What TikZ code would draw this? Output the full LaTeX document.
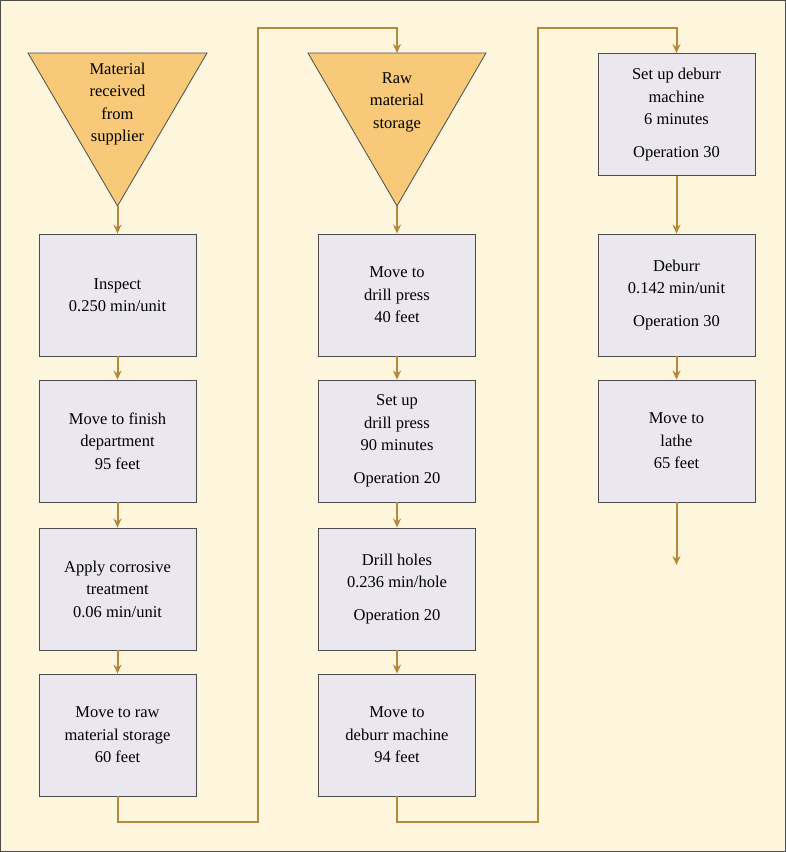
\documentclass[tikz,border=0pt]{standalone}
\usepackage{fontspec}
\setmainfont{Liberation Serif}
\usetikzlibrary{arrows.meta}

\definecolor{pagebg}{HTML}{FDF6DD}
\definecolor{boxfill}{HTML}{EBE7EF}
\definecolor{trifill}{HTML}{F7C978}
\definecolor{flow}{HTML}{B4893A}

\tikzset{
  stepbox/.style={draw=black!70,fill=boxfill,line width=0.8pt,minimum width=157pt,
    minimum height=122pt,align=center,inner sep=2pt,font=\fontsize{16.5}{22.5}\selectfont},
  tritext/.style={align=center,font=\fontsize{16.5}{22.5}\selectfont},
  flowline/.style={draw=flow,line width=2pt,-{Stealth[length=9pt,width=8pt]}}
}

\begin{document}
\begin{tikzpicture}[x=1pt,y=-1pt]
\fill[pagebg,draw=black!70,line width=0.8pt] (0.5,0.5) rectangle (785.5,851.5);
\useasboundingbox (0,0) rectangle (786,852);

% storage triangles
\draw[fill=trifill,draw=black!70,line width=0.8pt] (28,53) -- (207,53) -- (117.5,206) -- cycle;
\coordinate (tri1) at (117.5,206);
\node[tritext] (lbl1) at (117.5,104) {Material\\received\\from\\supplier};
\draw[fill=trifill,draw=black!70,line width=0.8pt] (308,53) -- (486,53) -- (397,206) -- cycle;
\coordinate (tri2) at (397,206);
\coordinate (top2) at (397,53);
\node[tritext] (lbl2) at (397,102) {Raw\\material\\storage};

% column 1
\node[stepbox] (inspect) at (117.5,295) {Inspect\\0.250 min/unit};
\node[stepbox] (movefin) at (117.5,441) {Move to finish\\department\\95 feet};
\node[stepbox] (treat) at (117.5,589) {Apply corrosive\\treatment\\0.06 min/unit};
\node[stepbox] (moveraw) at (117.5,735) {Move to raw\\material storage\\60 feet};

% column 2
\node[stepbox] (movedrill) at (397,295) {Move to\\drill press\\40 feet};
\node[stepbox] (setdrill) at (397,441) {Set up\\drill press\\90 minutes\\[10pt]Operation 20};
\node[stepbox] (drill) at (397,589) {Drill holes\\0.236 min/hole\\[10pt]Operation 20};
\node[stepbox] (movedeb) at (397,735) {Move to\\deburr machine\\94 feet};

% column 3
\node[stepbox] (setdeb) at (676.5,114.5) {Set up deburr\\machine\\6 minutes\\[10pt]Operation 30};
\node[stepbox] (deburr) at (676.5,295) {Deburr\\0.142 min/unit\\[10pt]Operation 30};
\node[stepbox] (movelathe) at (676.5,441) {Move to\\lathe\\65 feet};
\coordinate (top3) at (676.5,53);
\coordinate (out) at (676.5,565);

\path[flowline] (tri1) -- (inspect);
\path[flowline] (inspect) -- (movefin);
\path[flowline] (movefin) -- (treat);
\path[flowline] (treat) -- (moveraw);
\path[flowline] (moveraw.south) -- ++(0,26) -| (258,28) -| (top2);
\path[flowline] (tri2) -- (movedrill);
\path[flowline] (movedrill) -- (setdrill);
\path[flowline] (setdrill) -- (drill);
\path[flowline] (drill) -- (movedeb);
\path[flowline] (movedeb.south) -- ++(0,26) -| (538,28) -| (setdeb.north);
\path[flowline] (setdeb) -- (deburr);
\path[flowline] (deburr) -- (movelathe);
\path[flowline] (movelathe.south) -- (out);
\end{tikzpicture}
\end{document}
